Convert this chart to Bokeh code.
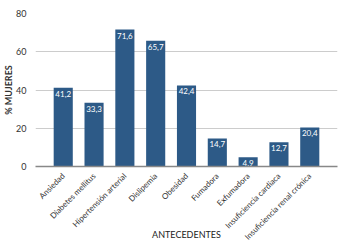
import math
from bokeh.plotting import figure
from bokeh.models import ColumnDataSource, Range1d, FixedTicker, Title
from bokeh.core.properties import value
from bokeh.embed import file_html
from bokeh.resources import INLINE

categories = ["Ansiedad", "Diabetes mellitus", "Hipertensión arterial", "Dislipemia",
              "Obesidad", "Fumadora", "Exfumadora", "Insuficiencia cardiaca",
              "Insuficiencia renal crónica"]
values = [41.2, 33.3, 71.6, 65.7, 42.4, 14.7, 4.9, 12.7, 20.4]
y_ticks = [0, 20, 40, 60, 80]

FONT = "Lato"
BAR = "#2d5a87"

labels = [f"{v:.1f}".replace(".", ",") for v in values]
src = ColumnDataSource(dict(cat=categories, val=values, lab=labels))

p = figure(x_range=categories, y_range=Range1d(0, 80), width=344, height=244,
           output_backend="svg", toolbar_location=None,
           min_border_left=34, min_border_right=7, min_border_top=13, min_border_bottom=78)
p.x_range.range_padding = 0.4
p.x_range.range_padding_units = "absolute"
p.outline_line_color = None
p.background_fill_color = "white"
p.border_fill_color = "white"

p.vbar(x="cat", top="val", width=0.62, source=src, color=BAR, line_color=None)
p.text(x="cat", y="val", text="lab", source=src, text_color="white",
       text_font=value(FONT), text_font_size="8px", text_align="center",
       text_baseline="top", y_offset=3)

p.xgrid.grid_line_color = None
p.ygrid.grid_line_color = "#cccccc"
p.ygrid.grid_line_width = 1
p.yaxis.ticker = FixedTicker(ticks=y_ticks)
p.yaxis.axis_line_color = None
p.yaxis.major_tick_line_color = None
p.yaxis.minor_tick_line_color = None
p.yaxis.major_label_text_font = FONT
p.yaxis.major_label_text_font_size = "9px"
p.yaxis.major_label_text_color = "#333333"
p.yaxis.major_label_standoff = 3

p.xaxis.axis_line_color = "#888888"
p.xaxis.axis_line_width = 1.5
p.xaxis.major_tick_line_color = None
p.xaxis.minor_tick_line_color = None
p.xaxis.major_label_orientation = math.pi / 4
p.xaxis.major_label_text_font = FONT
p.xaxis.major_label_text_font_size = "8px"
p.xaxis.major_label_text_color = "#333333"
p.xaxis.major_label_standoff = 2
p.xaxis.axis_label = "ANTECEDENTES"
p.xaxis.axis_label_text_font = FONT
p.xaxis.axis_label_text_font_style = "normal"
p.xaxis.axis_label_text_font_size = "9px"
p.xaxis.axis_label_text_color = "#222222"
p.xaxis.axis_label_standoff = -19

ytitle = Title(text="% MUJERES", align="center", offset=-21, standoff=0,
               text_font=FONT, text_font_size="9px", text_font_style="bold",
               text_color="#333333")
p.add_layout(ytitle, "left")

open("out.html", "w").write(file_html(p, INLINE))
